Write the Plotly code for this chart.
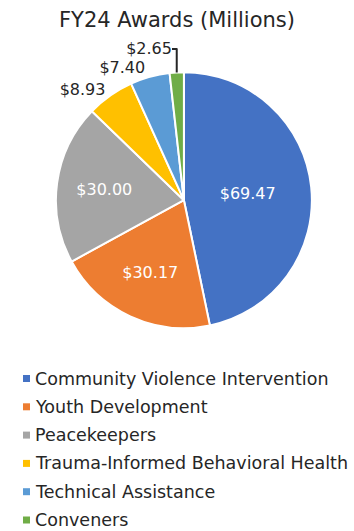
import plotly.graph_objects as go

categories = ["Community Violence Intervention", "Youth Development", "Peacekeepers",
              "Trauma-Informed Behavioral Health", "Technical Assistance", "Conveners"]
values = [69.47, 30.17, 30.00, 8.93, 7.40, 2.65]
colors = ["#4472C4", "#ED7D31", "#A5A5A5", "#FFC000", "#5B9BD5", "#70AD47"]
label_pos = ["inside", "inside", "inside", "outside", "outside", "outside"]

FONT = "DejaVu Sans"
TXT = "#262626"

fig = go.Figure(go.Pie(
    labels=categories,
    values=values,
    sort=False,
    direction="clockwise",
    rotation=0,
    marker=dict(colors=colors, line=dict(color="white", width=2)),
    text=[f"${v:.2f}" for v in values],
    textinfo="text",
    textposition=label_pos,
    insidetextorientation="horizontal",
    insidetextfont=dict(color="white", size=16, family=FONT),
    outsidetextfont=dict(color=TXT, size=16, family=FONT),
    hoverinfo="label+value",
    showlegend=False,
    domain=dict(x=[0.155, 0.884], y=[0.382, 0.864]),
))

# Legend drawn as a layout element (square swatch + label per category)
leg_top = 378.5
leg_step = 28.3
H = 531.0
W = 354.0
shapes = []
annotations = []
for i, (name, col) in enumerate(zip(categories, colors)):
    yc = 1 - (leg_top + i * leg_step) / H
    shapes.append(dict(type="rect", xref="paper", yref="paper",
                       x0=23 / W, x1=30 / W, y0=yc - 3.5 / H, y1=yc + 3.5 / H,
                       fillcolor=col, line=dict(width=0)))
    annotations.append(dict(text=name, xref="paper", yref="paper",
                            x=33 / W, y=yc, xanchor="left", yanchor="middle",
                            showarrow=False,
                            font=dict(size=17.5, color=TXT, family=FONT)))

fig.update_layout(
    width=354, height=531,
    margin=dict(l=0, r=0, t=0, b=0),
    paper_bgcolor="white",
    font=dict(family=FONT, color=TXT),
    title=dict(text="FY24 Awards (Millions)", x=0.5, xanchor="center",
               y=1 - 20 / H, yanchor="middle", font=dict(size=21, color=TXT, family=FONT)),
    shapes=shapes,
    annotations=annotations,
    showlegend=False,
)

fig.write_html("out.html")
